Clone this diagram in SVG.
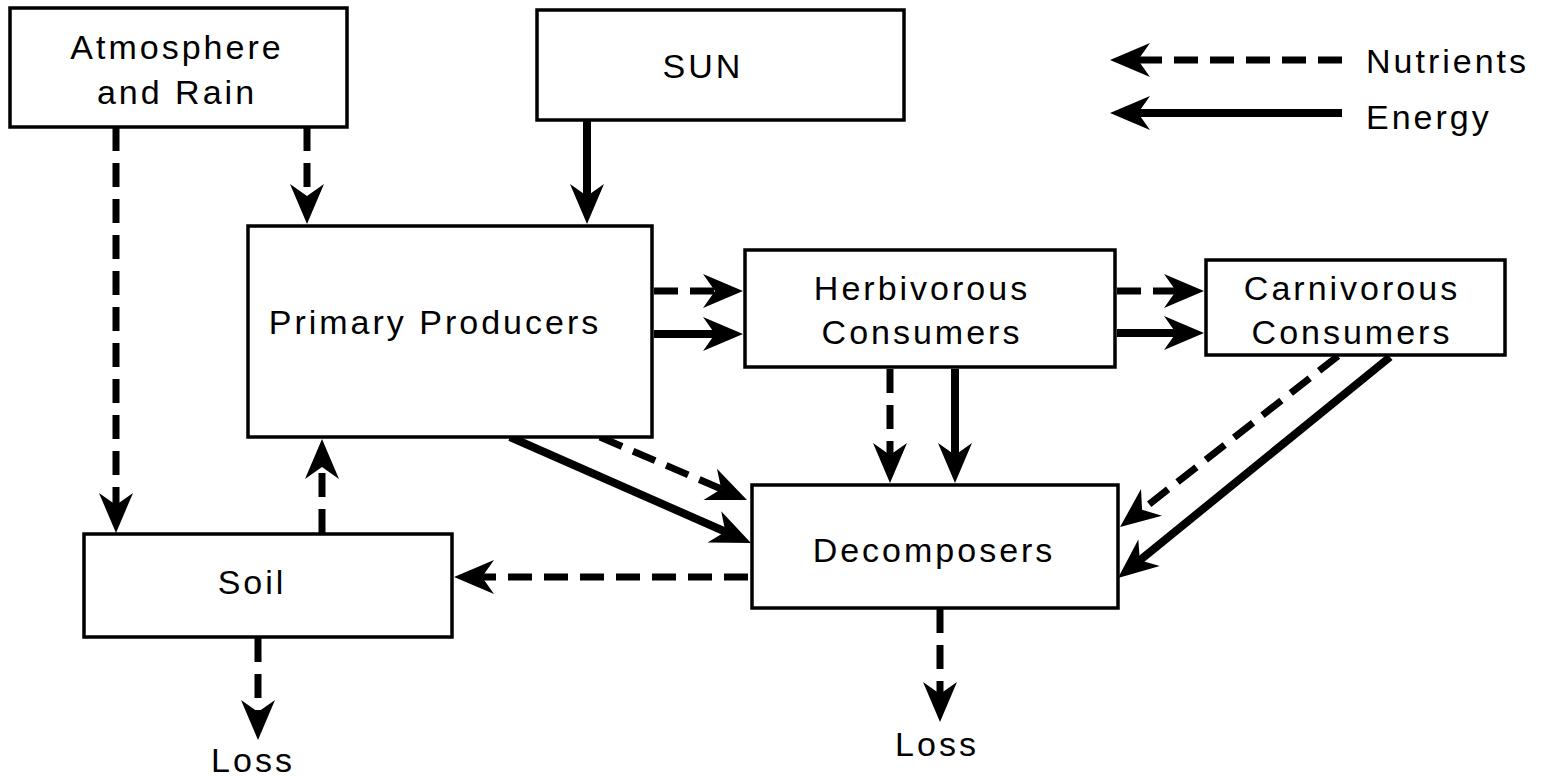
<svg xmlns="http://www.w3.org/2000/svg" width="1541" height="777" viewBox="0 0 1541 777">
<style>
.box{fill:#fff;stroke:#000;stroke-width:3.5}
.t{font-family:"Liberation Sans",Arial,sans-serif;font-size:34px;letter-spacing:3px;fill:#000;text-anchor:middle}
.s{stroke:#000;stroke-width:8;fill:none;marker-end:url(#ah)}
.d{stroke:#000;stroke-width:7;fill:none;stroke-dasharray:24 12;marker-end:url(#ah)}
</style>
<defs>
<marker id="ah" markerUnits="userSpaceOnUse" viewBox="-20 -20 50 40" markerWidth="50" markerHeight="40" refX="0" refY="0" orient="auto">
<path d="M26,0 L-14,-17 L-2,0 L-14,17 Z" fill="#000"/>
</marker>
</defs>
<rect width="1541" height="777" fill="#fff"/>
<g id="connectors">
<line class="d" x1="116" y1="127" x2="116" y2="507"/>
<line class="d" x1="307" y1="127" x2="307" y2="198"/>
<line class="s" x1="587" y1="120" x2="587" y2="198"/>
<line class="d" x1="654" y1="291" x2="717" y2="291"/>
<line class="s" x1="654" y1="334" x2="717" y2="334"/>
<line class="d" x1="1117" y1="291" x2="1178" y2="291"/>
<line class="s" x1="1117" y1="333" x2="1178" y2="333"/>
<line class="d" x1="890" y1="369" x2="890" y2="457"/>
<line class="s" x1="955" y1="369" x2="955" y2="457"/>
<line class="s" x1="510" y1="437" x2="727.2" y2="532.5"/>
<line class="d" x1="600" y1="437" x2="723.1" y2="489.8"/>
<line class="d" x1="1338" y1="356" x2="1140.5" y2="511"/>
<line class="s" x1="1390" y1="357" x2="1138.2" y2="561.6"/>
<line class="d" x1="748" y1="577" x2="480" y2="577"/>
<line class="d" x1="322" y1="533" x2="322" y2="465"/>
<line class="d" x1="258" y1="638" x2="258" y2="714"/>
<line class="d" x1="940" y1="609" x2="940" y2="696"/>
<line class="d" x1="1342" y1="60" x2="1136" y2="60"/>
<line class="s" x1="1342" y1="113" x2="1136" y2="113"/>
</g>
<g id="atmosphere">
<rect class="box" x="10" y="8" width="337" height="119"/>
<text class="t" x="177" y="59">Atmosphere</text>
<text class="t" x="177" y="104">and Rain</text>
</g>
<g id="sun">
<rect class="box" x="537" y="10" width="367" height="110"/>
<text class="t" x="703" y="78">SUN</text>
</g>
<g id="primary">
<rect class="box" x="248" y="226" width="404" height="211"/>
<text class="t" x="435" y="334">Primary Producers</text>
</g>
<g id="herbivorous">
<rect class="box" x="745" y="250" width="370" height="117"/>
<text class="t" x="922" y="300">Herbivorous</text>
<text class="t" x="922" y="344">Consumers</text>
</g>
<g id="carnivorous">
<rect class="box" x="1206" y="260" width="299" height="95"/>
<text class="t" x="1352" y="300">Carnivorous</text>
<text class="t" x="1352" y="344">Consumers</text>
</g>
<g id="decomposers">
<rect class="box" x="752" y="485" width="366" height="123"/>
<text class="t" x="934" y="562">Decomposers</text>
</g>
<g id="soil">
<rect class="box" x="84" y="534" width="368" height="103"/>
<text class="t" x="252" y="594">Soil</text>
</g>
<g id="loss1"><text class="t" x="253" y="772">Loss</text></g>
<g id="loss2"><text class="t" x="937" y="756">Loss</text></g>
<g id="legend">
<text class="t" x="1366" y="73" style="text-anchor:start">Nutrients</text>
<text class="t" x="1366" y="129" style="text-anchor:start">Energy</text>
</g>
</svg>
